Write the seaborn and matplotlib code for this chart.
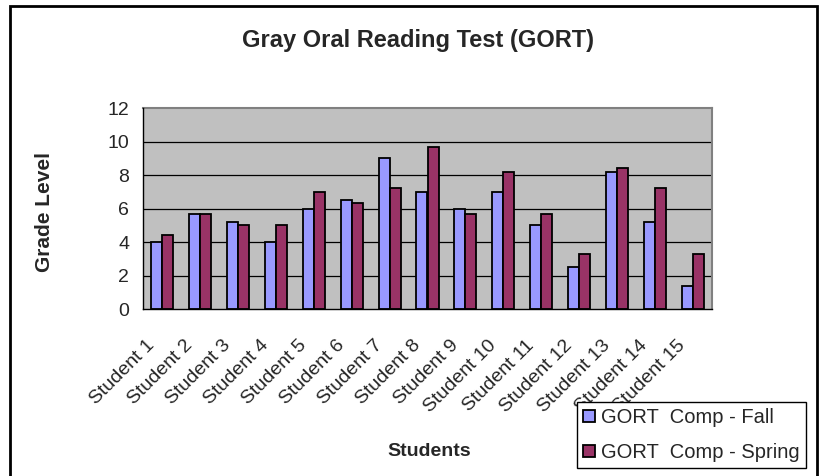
import matplotlib
matplotlib.use("Agg")
import matplotlib.pyplot as plt
import matplotlib.transforms as mtransforms
import seaborn as sns
import pandas as pd
import numpy as np
from matplotlib.patches import Rectangle

students = [f"Student {i}" for i in range(1, 16)]
fall = [4.0, 5.7, 5.2, 4.0, 6.0, 6.5, 9.0, 7.0, 6.0, 7.0, 5.0, 2.5, 8.2, 5.2, 1.4]
spring = [4.4, 5.7, 5.0, 5.0, 7.0, 6.3, 7.2, 9.7, 5.7, 8.2, 5.7, 3.3, 8.4, 7.2, 3.3]
series_names = ["GORT  Comp - Fall", "GORT  Comp - Spring"]
colors = ["#9999FF", "#993366"]
yticks = [0, 2, 4, 6, 8, 10, 12]

df = pd.DataFrame({
    "Student": students * 2,
    "Value": fall + spring,
    "Series": [series_names[0]] * len(students) + [series_names[1]] * len(students),
})

sns.set_style("white")
plt.rcParams["font.family"] = ["Liberation Sans", "DejaVu Sans"]

W, H = 819, 476
fig = plt.figure(figsize=(W / 100, H / 100), dpi=100)
ax = fig.add_axes([143 / W, 1 - 309 / H, (712 - 143) / W, (309 - 108) / H])
ax.set_facecolor("#C0C0C0")

sns.barplot(data=df, x="Student", y="Value", hue="Series", palette=colors,
            width=0.58, edgecolor="black", linewidth=1.3, ax=ax, zorder=3,
            saturation=1)

ax.set_ylim(0, 12)
ax.set_xlim(-0.5, len(students) - 0.5)
ax.set_yticks(yticks)
ax.set_yticklabels([str(v) for v in yticks], fontsize=14)
for v in yticks[1:-1]:
    ax.axhline(v, color="black", linewidth=0.9, zorder=1)

ax.set_xticks(range(len(students)))
ax.set_xticklabels(students, rotation=45, ha="right", va="center",
                   rotation_mode="anchor", fontsize=14)
ax.tick_params(axis="x", which="major", length=0, pad=0)
offset = mtransforms.ScaledTranslation(-10 / 100, -34 / 100, fig.dpi_scale_trans)
for lab in ax.get_xticklabels():
    lab.set_transform(lab.get_transform() + offset)
ax.set_xticks(np.arange(-0.5, len(students), 1.0), minor=True)
ax.tick_params(axis="x", which="minor", length=5, width=1, color="black", direction="out")
ax.tick_params(axis="y", length=5, width=1, color="black", direction="out", pad=5)

for side in ["top", "right"]:
    ax.spines[side].set_color("#808080")
    ax.spines[side].set_linewidth(1.5)
for side in ["left", "bottom"]:
    ax.spines[side].set_color("black")
    ax.spines[side].set_linewidth(1.0)
    ax.spines[side].set_zorder(4)

ax.set_xlabel("Students", fontsize=14, fontweight="bold", labelpad=0)
ax.xaxis.set_label_coords((429 - 143) / (712 - 143), -(452 - 309) / (309 - 108))
ax.xaxis.label.set_va("center")
ax.set_ylabel("Grade Level", fontsize=15, fontweight="bold")
ax.yaxis.set_label_coords(-(143 - 44) / (712 - 143), (309 - 212) / (309 - 108))
ax.yaxis.label.set_va("center")

fig.text(418 / W, 1 - 40 / H, "Gray Oral Reading Test (GORT)", ha="center", va="center",
         fontsize=17, fontweight="bold")

leg = ax.legend(loc="upper left", bbox_to_anchor=(577 / W, 1 - 402 / H),
                bbox_transform=fig.transFigure, frameon=True, fancybox=False,
                framealpha=1, fontsize=14.5, handlelength=0.6, handleheight=0.6,
                handletextpad=0.3, borderpad=0.3, labelspacing=0.8, borderaxespad=0)
leg.get_frame().set_edgecolor("black")
leg.get_frame().set_linewidth(1.0)
leg.set_zorder(20)

fig.patches.append(Rectangle((10 / W, -0.05), (817 - 10) / W, 1.05 - 6 / H,
                             transform=fig.transFigure, fill=False, edgecolor="black",
                             linewidth=2, zorder=10))

fig.savefig("out.png", dpi=100, facecolor="white")
